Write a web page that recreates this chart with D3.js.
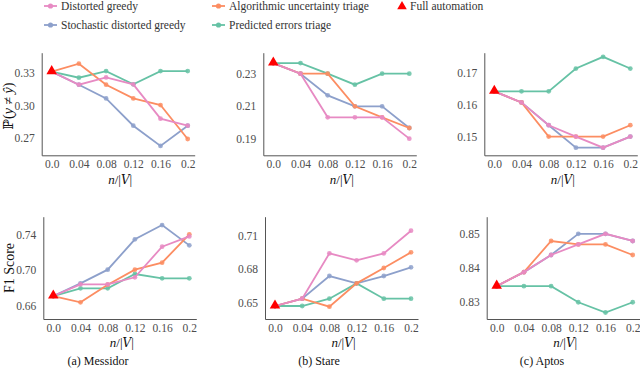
<!DOCTYPE html>
<html>
<head>
<meta charset="utf-8">
<script src="https://cdn.jsdelivr.net/npm/d3@7"></script>
<style>
  body { margin: 0; background: #fff; }
  svg { font-family: "Liberation Serif", "DejaVu Serif", serif; }
</style>
</head>
<body>
<div id="chart"></div>
<script>
// x values and tick labels shared by all panels
var xValues = [0, 0.04, 0.08, 0.12, 0.16, 0.2];
var xTickLabels = ["0.0", "0.04", "0.08", "0.12", "0.16", "0.2"];

var seriesNames = ["Predicted errors triage", "Stochastic distorted greedy", "Algorithmic uncertainty triage", "Distorted greedy"];
var seriesColors = ["#66c2a5", "#8da0cb", "#fc8d62", "#e78ac3"];

// error rate P(y != y_hat), order: predicted, stochastic, algorithmic, distorted
var messidorErr = [
    [0.331, 0.3254, 0.3315, 0.3193, 0.3315, 0.3315],
    [0.331, 0.319, 0.3064, 0.2813, 0.2627, 0.2813],
    [0.331, 0.3383, 0.319, 0.3064, 0.3003, 0.2691],
    [0.331, 0.319, 0.3257, 0.3193, 0.2878, 0.2813]
];
var stareErr = [
    [0.2366, 0.2366, 0.23, 0.2232, 0.23, 0.23],
    [0.2366, 0.23, 0.2166, 0.2098, 0.2098, 0.1964],
    [0.2366, 0.23, 0.23, 0.2098, 0.203, 0.1964],
    [0.2366, 0.23, 0.203, 0.203, 0.203, 0.1898]
];
var aptosErr = [
    [0.1643, 0.1643, 0.1643, 0.1715, 0.1752, 0.1715],
    [0.1643, 0.1608, 0.1536, 0.1465, 0.1465, 0.15],
    [0.1643, 0.1608, 0.15, 0.15, 0.15, 0.1536],
    [0.1643, 0.1608, 0.1536, 0.15, 0.1465, 0.15]
];

// F1 score
var messidorF1 = [
    [0.6705, 0.6792, 0.6792, 0.6953, 0.6904, 0.6904],
    [0.6705, 0.6848, 0.7002, 0.7344, 0.7505, 0.7276],
    [0.6705, 0.6634, 0.6833, 0.7002, 0.7081, 0.74],
    [0.6705, 0.6837, 0.6837, 0.6916, 0.7261, 0.7377]
];
var stareF1 = [
    [0.6467, 0.6467, 0.6533, 0.6671, 0.6533, 0.6533],
    [0.6467, 0.6533, 0.6737, 0.6671, 0.6737, 0.6815],
    [0.6467, 0.6533, 0.6461, 0.6671, 0.6809, 0.695],
    [0.6467, 0.6533, 0.6941, 0.6878, 0.6941, 0.7145]
];
var aptosF1 = [
    [0.8347, 0.8347, 0.8347, 0.83, 0.827, 0.83],
    [0.8347, 0.8388, 0.8438, 0.85, 0.85, 0.8479],
    [0.8347, 0.8388, 0.8479, 0.8469, 0.8469, 0.8438],
    [0.8347, 0.8388, 0.8438, 0.8469, 0.85, 0.8479]
];

var errTicks = [[0.27, 0.30, 0.33], [0.19, 0.21, 0.23], [0.15, 0.16, 0.17]];
var f1Ticks = [[0.66, 0.70, 0.74], [0.65, 0.68, 0.71], [0.83, 0.84, 0.85]];
var captions = ["(a) Messidor", "(b) Stare", "(c) Aptos"];

var w = 640, h = 387;
var svg = d3.select("#chart").append("svg")
    .attr("width", w)
    .attr("height", h);

// panel layout (pixel boxes) and y domains
var panels = [
    {data: messidorErr, ticks: errTicks[0], left: 41.7, top: 52.7, bottom: 155.3, dom: [0.2541, 0.3484]},
    {data: stareErr,    ticks: errTicks[1], left: 263.3, top: 52.7, bottom: 155.3, dom: [0.1795, 0.243]},
    {data: aptosErr,    ticks: errTicks[2], left: 484.3, top: 52.7, bottom: 155.3, dom: [0.1441, 0.1765]},
    {data: messidorF1,  ticks: f1Ticks[0], left: 43.3, top: 216.7, bottom: 319, dom: [0.6446, 0.7599]},
    {data: stareF1,     ticks: f1Ticks[1], left: 265, top: 216.7, bottom: 319, dom: [0.635, 0.7271]},
    {data: aptosF1,     ticks: f1Ticks[2], left: 486.7, top: 216.7, bottom: 319, dom: [0.8251, 0.855]}
];
var panelW = 153;

panels.forEach(function (p, i) {
    var g = svg.append("g");
    var x = d3.scaleLinear().domain([-0.0147, 0.2103]).range([p.left, p.left + panelW]);
    var y = d3.scaleLinear().domain(p.dom).range([p.bottom, p.top]);

    // axes (no visible tick marks, like the reference)
    var xAxis = g.append("g")
        .attr("transform", "translate(0," + p.bottom + ")")
        .call(d3.axisBottom(x).tickValues(xValues).tickSizeInner(0).tickSizeOuter(0).tickPadding(4.5)
            .tickFormat(function (d, k) { return xTickLabels[k]; }));
    var yAxis = g.append("g")
        .attr("transform", "translate(" + p.left + ",0)")
        .call(d3.axisLeft(y).tickValues(p.ticks).tickSizeInner(0).tickSizeOuter(0).tickPadding(7)
            .tickFormat(d3.format(".2f")));
    [xAxis, yAxis].forEach(function (a) {
        a.select(".domain").attr("stroke", "#555").attr("stroke-width", 1);
        a.selectAll("text").attr("font-size", 11.5).attr("fill", "#4d4d4d")
            .attr("font-family", "Liberation Serif, serif");
    });

    // series
    var line = d3.line()
        .x(function (d, k) { return x(xValues[k]); })
        .y(function (d) { return y(d); });
    p.data.forEach(function (vals, s) {
        g.append("path")
            .attr("d", line(vals))
            .attr("fill", "none")
            .attr("stroke", seriesColors[s])
            .attr("stroke-width", 1.8);
        g.selectAll(null)
            .data(vals)
            .enter()
            .append("circle")
            .attr("cx", function (d, k) { return x(xValues[k]); })
            .attr("cy", function (d) { return y(d); })
            .attr("r", 2.4)
            .attr("fill", seriesColors[s])
            .attr("opacity", 0.85);
    });

    // full automation triangle
    g.append("path")
        .attr("d", d3.symbol().type(d3.symbolTriangle).size(48)())
        .attr("transform", "translate(" + x(0) + "," + (y(p.data[0][0]) - 0.5) + ")")
        .attr("fill", "#ff0000");

    // x title
    var xt = g.append("text")
        .attr("x", p.left + panelW / 2 + 2)
        .attr("y", i < 3 ? 183.5 : 347)
        .attr("text-anchor", "middle")
        .attr("font-size", 13)
        .attr("fill", "#111");
    xt.append("tspan").attr("font-style", "italic").text("n");
    xt.append("tspan").text("/|");
    xt.append("tspan").attr("font-family", "DejaVu Serif, serif").attr("font-style", "italic").attr("font-size", 12).text("V");
    xt.append("tspan").text("|");

    if (i >= 3) {
        svg.append("text")
            .attr("x", [98, 319, 542][i - 3])
            .attr("y", 365)
            .attr("text-anchor", "middle")
            .attr("font-size", 12)
            .attr("fill", "#111")
            .text(captions[i - 3]);
    }
});

// y titles
var yt = svg.append("text")
    .attr("transform", "translate(13,106) rotate(-90)")
    .attr("text-anchor", "middle")
    .attr("font-size", 14)
    .attr("fill", "#111");
yt.append("tspan").attr("font-family", "DejaVu Serif, serif").text("ℙ");
yt.append("tspan").text("(");
yt.append("tspan").attr("font-style", "italic").text("y");
yt.append("tspan").text(" ≠ ");
yt.append("tspan").attr("font-style", "italic").text("ŷ");
yt.append("tspan").text(")");

svg.append("text")
    .attr("transform", "translate(14,268) rotate(-90)")
    .attr("text-anchor", "middle")
    .attr("font-size", 14)
    .attr("fill", "#111")
    .text("F1 Score");

// legend
var legendItems = [
    {name: "Distorted greedy", s: 3, x: 44, y: 6},
    {name: "Algorithmic uncertainty triage", s: 2, x: 212, y: 6},
    {name: "Stochastic distorted greedy", s: 1, x: 44, y: 25},
    {name: "Predicted errors triage", s: 0, x: 212, y: 25}
];
var legend = svg.append("g");
legendItems.forEach(function (it) {
    legend.append("line")
        .attr("x1", it.x).attr("x2", it.x + 13)
        .attr("y1", it.y).attr("y2", it.y)
        .attr("stroke", seriesColors[it.s]).attr("stroke-width", 1.8);
    legend.append("circle")
        .attr("cx", it.x + 6.5).attr("cy", it.y).attr("r", 2.6)
        .attr("fill", seriesColors[it.s]);
    legend.append("text")
        .attr("x", it.x + 17).attr("y", it.y + 4)
        .attr("font-size", 11.5).attr("fill", "#333")
        .text(it.name);
});
legend.append("path")
    .attr("d", d3.symbol().type(d3.symbolTriangle).size(40)())
    .attr("transform", "translate(402,6.5)")
    .attr("fill", "#ff0000");
legend.append("text")
    .attr("x", 410).attr("y", 10)
    .attr("font-size", 11.5).attr("fill", "#333")
    .text("Full automation");
</script>
</body>
</html>
